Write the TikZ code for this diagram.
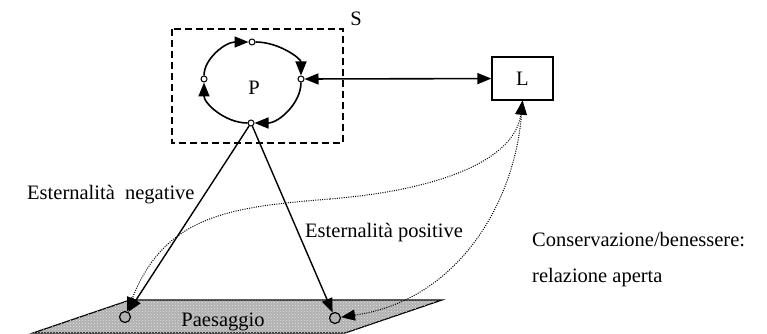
\documentclass[tikz,border=0pt]{standalone}
\usepackage{fontspec}
\setmainfont{Liberation Serif}
\usetikzlibrary{arrows.meta,patterns}
\tikzset{
  hd/.tip={Triangle[length=14pt,width=11pt]},
  arr/.style={-hd},
  darr/.style={hd-hd},
  cyc/.style={line width=1.6pt,-hd},
  pt/.style={circle,draw,fill=white,inner sep=0pt,minimum size=6pt,line width=1pt},
  spot/.style={circle,draw,fill=gray!60,inner sep=0pt,minimum size=11pt,line width=1.2pt},
  lbl/.style={font=\fontsize{20.5}{24}\selectfont,inner sep=0pt},
  dot/.style={line width=1pt,dash pattern=on 1pt off 1.3pt},
}
\begin{document}
\begin{tikzpicture}[x=1pt,y=-1pt]
\useasboundingbox (0,0) rectangle (767,334);
% landscape
\filldraw[line width=1.2pt,fill=gray!62] (33,333) -- (130,300) -- (442,300) -- (345,333) -- cycle;
\fill[pattern=crosshatch dots,pattern color=gray!20] (33,333) -- (130,300) -- (442,300) -- (345,333) -- cycle;
\node[lbl] (pae) at (223,322) {Paesaggio};
% system box
\draw[line width=1.6pt,dash pattern=on 7pt off 4pt] (172,29) rectangle (343,143);
\node[lbl] (S) at (356,19) {S};
\node[lbl] (P) at (254,88) {P};
% cycle points
\node[pt] (t) at (252,42) {};
\node[pt] (r) at (301,79) {};
\node[pt] (b) at (251,123) {};
\node[pt] (l) at (204,79) {};
\draw[cyc] (l) .. controls +(0,-20.4) and +(-26.5,0) .. (t);
\draw[cyc] (t) .. controls +(27,0) and +(0,-20.4) .. (r);
\draw[cyc] (r) .. controls +(0,24.3) and +(27.6,0) .. (b);
\draw[cyc] (b) .. controls +(-26,0) and +(0,24.3) .. (l);
% L box
\node[lbl,draw,line width=1.3pt,minimum width=61pt,minimum height=43pt] (L) at (522.5,78.5) {L};
\draw[darr,line width=1.6pt] (r) -- (L);
% landscape spots
\node[spot] (c1) at (125,317) {};
\node[spot] (c2) at (335,318) {};
\draw[arr,line width=1.4pt] (b) -- (c1);
\draw[arr,line width=1.4pt] (b) -- (c2);
% dotted relations
\coordinate (m) at (330,199);
\draw[dot,-hd] (m) .. controls (440,190) and (515,160) .. (L.south);
\draw[dot,-hd] (m) .. controls (230,207) and (165,215) .. (c1);
\draw[dot,darr] (L.south) .. controls (515,200) and (460,300) .. (c2);
% texts
\node[lbl,anchor=west] (neg) at (27,195) {Esternalità~ negative};
\node[lbl,anchor=west] (pos) at (305,233) {Esternalità positive};
\node[lbl,anchor=west] (cons) at (532,240) {Conservazione/benessere:};
\node[lbl,anchor=west] (rel) at (532,278) {relazione aperta};
\end{tikzpicture}
\end{document}
